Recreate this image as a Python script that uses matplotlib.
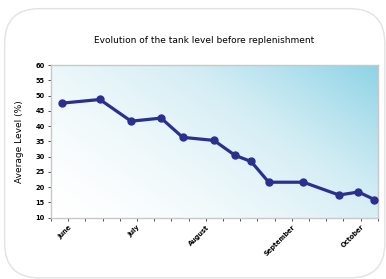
import numpy as np
import matplotlib.pyplot as plt
from matplotlib.patches import FancyBboxPatch
from matplotlib.colors import LinearSegmentedColormap

# days since start of the axis and average tank level
days = [4.4, 19.9, 32.6, 44.8, 53.6, 66.3, 74.9, 81.4, 88.6, 102.7, 117.2, 125.1, 131.6]
level = [47.5, 48.7, 41.6, 42.6, 36.3, 35.3, 30.4, 28.4, 21.6, 21.6, 17.4, 18.4, 15.9]

# weekly ticks, month names on some of them
tick_days = list(range(0, 134, 7))
month_labels = {7: "June", 35: "July", 63: "August", 98: "September", 126: "October"}
tick_labels = [month_labels.get(d, "") for d in tick_days]

fig = plt.figure(figsize=(3.86, 2.79), dpi=100)

# rounded frame around the chart
frame = FancyBboxPatch((0.012, 0.004), 0.985, 0.965,
                       boxstyle="round,pad=0,rounding_size=0.09",
                       transform=fig.transFigure, facecolor="white",
                       edgecolor="#e2e2e2", linewidth=1.0, mutation_aspect=386 / 279,
                       zorder=-5)
fig.patches.append(frame)

ax = fig.add_axes([0.132, 0.22, 0.847, 0.547])

# gradient background, white bottom-left to blue top-right
cmap = LinearSegmentedColormap.from_list("bg", ["#ffffff", "#d3edf4", "#8ed3e6"])
xx, yy = np.meshgrid(np.linspace(0, 1, 200), np.linspace(0, 1, 200))
grad = (xx * 0.6 + yy * 0.4)
grad = grad ** 1.6
ax.imshow(grad, cmap=cmap, extent=[0, 1, 0, 1], origin="lower",
          transform=ax.transAxes, aspect="auto", zorder=0, interpolation="bilinear")

ax.plot(days, level, color="#2b2f8f", linewidth=2.3, marker="o", markersize=5, zorder=3)

ax.set_xlim(0, 133)
ax.set_ylim(10, 60)
ax.set_yticks(range(10, 61, 5))
ax.set_xticks(tick_days)
ax.set_xticklabels(tick_labels, rotation=45, ha="right", rotation_mode="anchor",
                   fontsize=4.8, fontweight="bold")
for lab in ax.get_yticklabels():
    lab.set_fontsize(4.8)
    lab.set_fontweight("bold")

for s in ax.spines.values():
    s.set_color("#c8c8c8")
    s.set_linewidth(1.0)
ax.tick_params(axis="both", length=2.5, width=0.6, color="#333333", pad=2)

ax.set_ylabel("Average Level (%)", fontsize=6.5, labelpad=8)
fig.text(0.53, 0.855, "Evolution of the tank level before replenishment",
         ha="center", va="center", fontsize=6.5)

fig.savefig("out.png", dpi=100)
